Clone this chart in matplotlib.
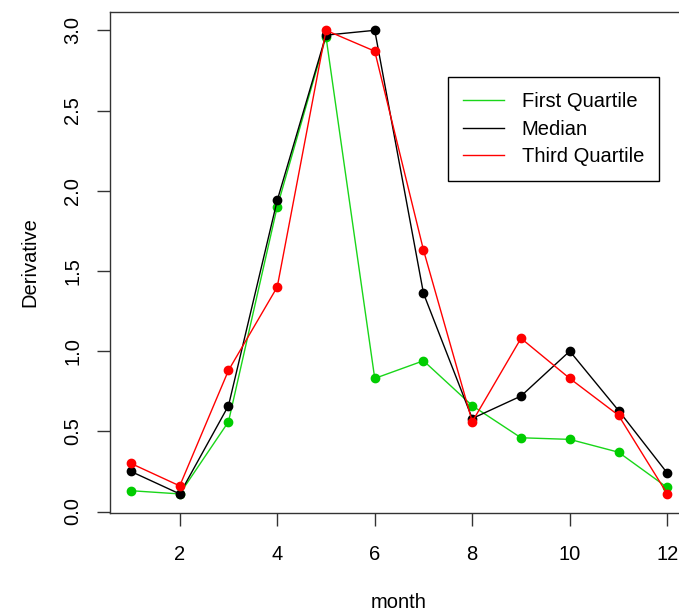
import matplotlib.pyplot as plt

# monthly derivative values
month = [1, 2, 3, 4, 5, 6, 7, 8, 9, 10, 11, 12]
first_q = [0.13, 0.11, 0.56, 1.90, 2.96, 0.83, 0.94, 0.66, 0.46, 0.45, 0.37, 0.15]
median = [0.25, 0.11, 0.66, 1.94, 2.97, 3.00, 1.36, 0.58, 0.72, 1.00, 0.63, 0.24]
third_q = [0.30, 0.16, 0.88, 1.40, 3.00, 2.87, 1.63, 0.56, 1.08, 0.83, 0.60, 0.11]

series = [
    ("First Quartile", first_q, "#19d619", "#00cd00"),
    ("Median", median, "#000000", "#000000"),
    ("Third Quartile", third_q, "#ff0000", "#ff0000"),
]

plt.rcParams['font.family'] = ['Liberation Sans', 'DejaVu Sans']

fig = plt.figure(figsize=(6.79, 6.13), dpi=100)
ax = fig.add_axes([0.1613, 0.1626, 0.853, 0.8183])

for name, vals, lcol, pcol in series:
    ax.plot(month, vals, color=lcol, lw=1, label=name)
    ax.plot(month, vals, ls='none', marker='o', ms=6, color=pcol)

ax.set_xlim(0.56, 12.44)
ax.set_ylim(-0.011, 3.116)
ax.set_xticks([2, 4, 6, 8, 10, 12])
ax.set_yticks([0.0, 0.5, 1.0, 1.5, 2.0, 2.5, 3.0])
ax.set_yticklabels(["0.0", "0.5", "1.0", "1.5", "2.0", "2.5", "3.0"],
                   rotation=90, va='center')
ax.tick_params(axis='both', length=9.5, width=1, labelsize=14.5, color='#333333')
ax.tick_params(axis='x', pad=13)
ax.tick_params(axis='y', pad=10)
for s in ax.spines.values():
    s.set_color('#333333')
    s.set_linewidth(1)

ax.set_xlabel("month", fontsize=14.5, labelpad=21)
ax.set_ylabel("Derivative", fontsize=14.5, labelpad=17)

leg = ax.legend(loc='upper left', bbox_to_anchor=(0.660, 0.874),
                bbox_transform=fig.transFigure, fontsize=14.5,
                frameon=True, fancybox=False, edgecolor='black',
                framealpha=1, borderaxespad=0, handlelength=2.0,
                handletextpad=0.9, labelspacing=0.42, borderpad=0.75)
leg.get_frame().set_linewidth(1)

fig.savefig("out.png", dpi=100)
